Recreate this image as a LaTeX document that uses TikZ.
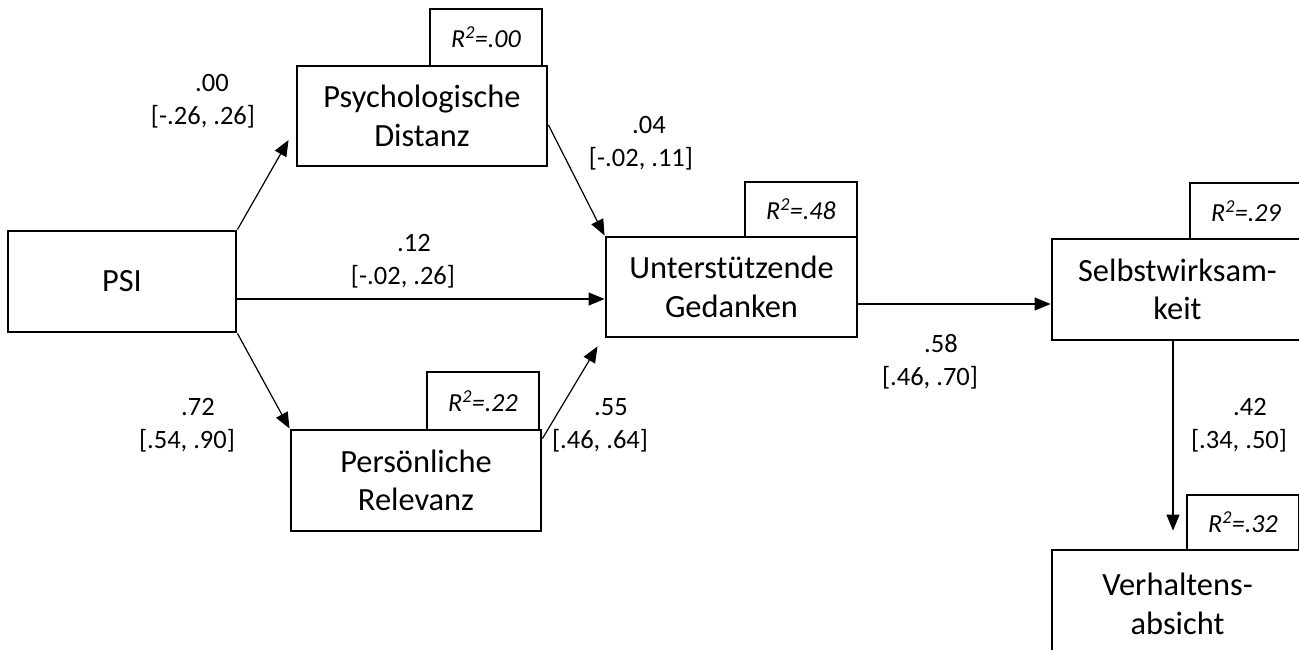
\documentclass[tikz,border=0pt]{standalone}
\usepackage{fontspec}
\setmainfont{Carlito}
\usetikzlibrary{arrows.meta,calc}
\begin{document}
\begin{tikzpicture}[x=1pt,y=-1pt,
  box/.style={draw,line width=2.9pt,inner sep=0pt,align=center,font=\fontsize{32.4}{38.5}\selectfont},
  rbox/.style={draw,line width=2.9pt,inner sep=0pt,minimum width=112pt,font=\fontsize{26}{30}\selectfont\itshape},
  lab/.style={align=center,inner sep=0pt,font=\fontsize{26.5}{33}\selectfont},
  arr/.style={-{Triangle[length=16pt,width=13pt]},line width=1.2pt}]
\useasboundingbox (0,0) rectangle (1299,649);
% main boxes
\node[box,minimum width=228pt,minimum height=101pt] (psi) at (122,281.5) {PSI};
\node[box,minimum width=250pt,minimum height=100pt] (pd) at (422,116) {Psychologische\\Distanz};
\node[box,minimum width=251pt,minimum height=100pt] (ug) at (731.5,287) {Unterstützende\\Gedanken};
\node[box,minimum width=251pt,minimum height=101pt] (sw) at (1177.5,289.5) {Selbstwirksam-\\keit};
\node[box,minimum width=250pt,minimum height=101pt] (pr) at (416,480.5) {Persönliche\\Relevanz};
\node[box,minimum width=251pt,minimum height=108pt] (va) at (1177.5,604) {Verhaltens-\\absicht};
% R2 boxes
\node[rbox,minimum height=57pt] (pdr) at (486,37.5) {R\textsuperscript{2}=.00};
\node[rbox,minimum height=55pt] (ugr) at (801,209.5) {R\textsuperscript{2}=.48};
\node[rbox,minimum height=56pt] (swr) at (1246,211) {R\textsuperscript{2}=.29};
\node[rbox,minimum height=58pt] (prr) at (483,401) {R\textsuperscript{2}=.22};
\node[rbox,minimum height=55pt] (var) at (1243,522.5) {R\textsuperscript{2}=.32};
% connectors
\draw[arr] (psi.north east) -- ([xshift=-7pt,yshift=-24pt]pd.west);
\draw[arr] ([yshift=-9pt]pd.east) -- (ug.north west);
\draw[arr] ([yshift=-17.5pt]psi.east) -- ([yshift=-17.5pt]psi.east -| ug.west);
\draw[arr] (psi.south east) -- (pr.north west);
\draw[arr] ([yshift=-10pt]pr.north east) -- ([xshift=-7pt,yshift=-8pt]ug.south west);
\draw[arr] ([yshift=-17pt]ug.east) -- ([yshift=-17pt]ug.east -| sw.west);
\draw[arr] ([xshift=-4.5pt]sw.south) -- ([xshift=-4.5pt,yshift=18pt]va.north);
% labels
\node[lab] (l00) at (203,101) {\hspace*{18pt}.00\\{[}-.26, .26{]}};
\node[lab] (l04) at (641,143.5) {\hspace*{16pt}.04\\{[}-.02, .11{]}};
\node[lab] (l12) at (403,261) {\hspace*{22pt}.12\\{[}-.02, .26{]}};
\node[lab] (l72) at (187,425) {\hspace*{22pt}.72\\{[}.54, .90{]}};
\node[lab] (l55) at (600,425) {\hspace*{22pt}.55\\{[}.46, .64{]}};
\node[lab] (l58) at (930,361.5) {\hspace*{22pt}.58\\{[}.46, .70{]}};
\node[lab] (l42) at (1239,425) {\hspace*{22pt}.42\\{[}.34, .50{]}};
\end{tikzpicture}
\end{document}
